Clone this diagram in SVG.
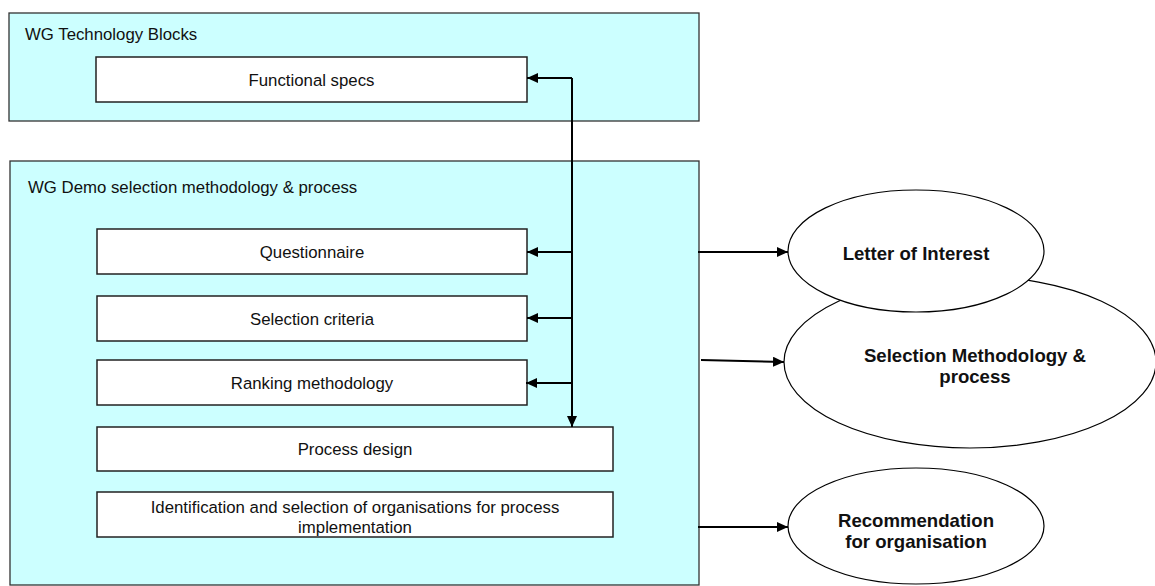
<svg xmlns="http://www.w3.org/2000/svg" width="1155" height="586" viewBox="0 0 1155 586">
<style>
.grp{fill:#CCFFFF;stroke:#333;stroke-width:1.3}
.box{fill:#fff;stroke:#222;stroke-width:1.5}
.ell{fill:#fff;stroke:#000;stroke-width:1.2}
.t{font-family:"Liberation Sans",Arial,sans-serif;font-size:16.8px;fill:#111}
.c{text-anchor:middle}
.b{font-family:"Liberation Sans",Arial,sans-serif;font-size:18.6px;font-weight:bold;fill:#111;text-anchor:middle}
.ln{stroke:#000;stroke-width:2;fill:none}
</style>
<defs>
<marker id="ah" viewBox="0 0 11 10" refX="11" refY="5" markerWidth="11" markerHeight="10" markerUnits="userSpaceOnUse" orient="auto">
<path d="M0,0 L11,5 L0,10 Z" fill="#000"/>
</marker>
</defs>
<rect width="1155" height="586" fill="#fff"/>
<g id="wg-tech">
<rect class="grp" x="9" y="13" width="690" height="108"/>
<text class="t" x="25" y="40">WG Technology Blocks</text>
</g>
<g id="wg-demo">
<rect class="grp" x="10" y="161" width="689" height="424"/>
<text class="t" x="28" y="193">WG Demo selection methodology &amp; process</text>
</g>
<g id="functional-specs">
<rect class="box" x="96" y="57" width="431" height="45"/>
<text class="t c" x="311.5" y="85.5">Functional specs</text>
</g>
<g id="questionnaire">
<rect class="box" x="97" y="229" width="430" height="45"/>
<text class="t c" x="312" y="258">Questionnaire</text>
</g>
<g id="selection-criteria">
<rect class="box" x="97" y="296" width="430" height="45"/>
<text class="t c" x="312" y="324.5">Selection criteria</text>
</g>
<g id="ranking-methodology">
<rect class="box" x="97" y="360" width="430" height="45"/>
<text class="t c" x="312" y="388.5">Ranking methodology</text>
</g>
<g id="process-design">
<rect class="box" x="97" y="427" width="516" height="44"/>
<text class="t c" x="355" y="455">Process design</text>
</g>
<g id="identification">
<rect class="box" x="97" y="492" width="516" height="45"/>
<text class="t c" x="355" y="512.5">Identification and selection of organisations for process</text>
<text class="t c" x="355" y="532.5">implementation</text>
</g>
<g id="selection-methodology">
<ellipse class="ell" cx="970" cy="362" rx="186" ry="86"/>
<text class="b" x="975" y="361.5">Selection Methodology &amp;</text>
<text class="b" x="975" y="383">process</text>
</g>
<g id="letter-of-interest">
<ellipse class="ell" cx="916" cy="251" rx="128" ry="61"/>
<text class="b" x="916" y="260">Letter of Interest</text>
</g>
<g id="recommendation">
<ellipse class="ell" cx="916" cy="526" rx="128" ry="58"/>
<text class="b" x="916" y="527">Recommendation</text>
<text class="b" x="916" y="548">for organisation</text>
</g>
<g id="connectors">
<path class="ln" d="M572,78 V427" marker-end="url(#ah)"/>
<path class="ln" d="M572,78 H527" marker-end="url(#ah)"/>
<path class="ln" d="M572,252 H527" marker-end="url(#ah)"/>
<path class="ln" d="M572,318 H527" marker-end="url(#ah)"/>
<path class="ln" d="M572,383 H526" marker-end="url(#ah)"/>
<path class="ln" d="M698,252 H788" marker-end="url(#ah)"/>
<path class="ln" d="M701,360 L784,362" marker-end="url(#ah)"/>
<path class="ln" d="M698,527 H788" marker-end="url(#ah)"/>
</g>
</svg>
